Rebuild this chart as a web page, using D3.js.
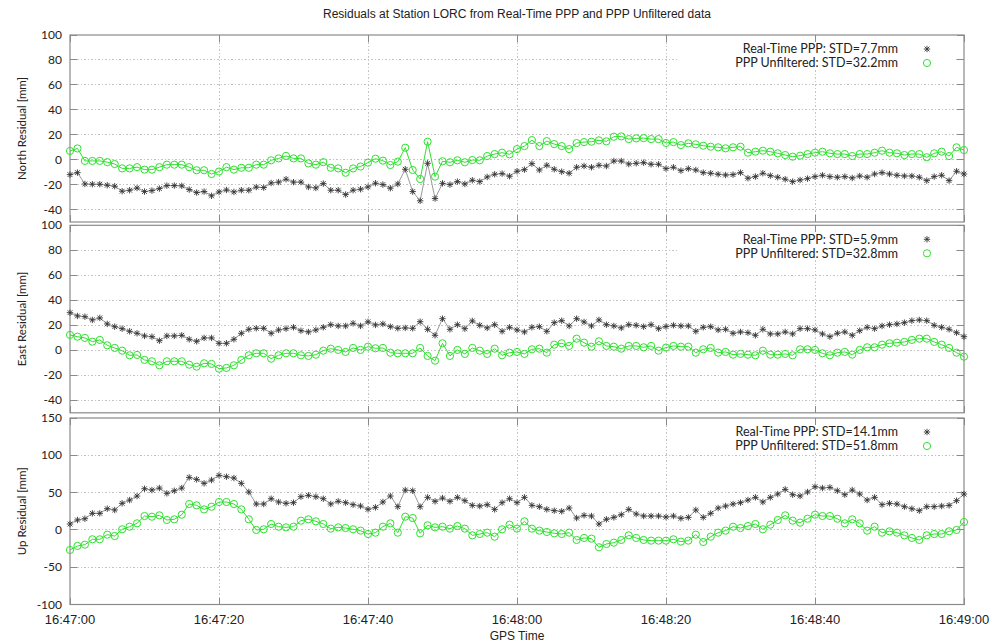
<!DOCTYPE html>
<html><head><meta charset="utf-8">
<script src="https://cdn.jsdelivr.net/npm/d3@7/dist/d3.min.js"></script>
<style>body{margin:0;background:#fff}svg{display:block}</style>
</head><body>
<svg id="c" width="992" height="644"></svg>
<script>
// ---- data ----
const startTime = "16:47:00";
const endTime = "16:49:00";
const xTickLabels = ["16:47:00","16:47:20","16:47:40","16:48:00","16:48:20","16:48:40","16:49:00"];
const title = "Residuals at Station LORC from Real-Time PPP and PPP Unfiltered data";
const seriesNames = ["Real-Time PPP", "PPP Unfiltered"];
const panelLabels = ["North Residual [mm]", "East Residual [mm]", "Up Residual [mm]"];
const stdRT = ["7.7", "5.9", "14.1"];
const stdUnf = ["32.2", "32.8", "51.8"];
const yTicksNE = [-40,-20,0,20,40,60,80,100];
const yTicksUp = [-100,-50,0,50,100,150];

const northRT = [-12,-10.4,-19.5,-19.7,-19.7,-20.5,-21.3,-25.3,-24.5,-22.7,
 -25.6,-24.8,-23.2,-20.8,-20.8,-21,-24,-26.4,-25.6,-29,
 -25.9,-24.3,-25.9,-24.5,-24.5,-22,-22.4,-18.7,-18,-15.7,
 -18,-18,-21.9,-22.7,-19.2,-24.5,-24.5,-28,-24.5,-23.7,
 -21.8,-18.9,-20,-22.9,-19.5,-7.7,-25.6,-33,-2.9,-31.2,
 -19,-20,-17.6,-19.5,-16.5,-17.6,-13.9,-11.7,-11.2,-13.3,
 -9.3,-8,-3.2,-8.3,-4.5,-7.7,-9.6,-10.9,-6.1,-5.1,
 -6.1,-4.5,-5.1,-1.1,-1.1,-3.5,-2.9,-2.4,-3.7,-3.7,
 -7.2,-6.1,-8.8,-7.2,-8.3,-10.4,-10.9,-11.7,-12.3,-12,
 -10.4,-14.9,-13.6,-10.9,-12.8,-14.1,-15.7,-17.6,-16.3,-15.2,
 -13.6,-12.5,-13.6,-14.1,-13.6,-14.7,-13.1,-14.1,-11.5,-10.4,
 -11.5,-12.5,-13.1,-13.1,-14.1,-16.8,-13.6,-12.5,-16.8,-9.3,
 -11.5];
const northUnf = [7,9,-1,-1,-1,-2,-3.5,-7,-7,-6,
 -8,-8,-6,-4,-4,-4,-6,-8.5,-8.5,-11.5,
 -9.5,-6,-8,-6.5,-6.5,-4,-4,-0.5,1,3,
 1,1,-3,-4,-2,-6.5,-7,-10.5,-7,-5.5,
 -2.4,0.8,-0.8,-4.3,-1.6,9.6,-8.3,-15.5,14.4,-13.6,
 -1.3,-2.1,-0.5,-2.1,-0.3,-0.5,2.9,4.5,5.6,4.3,
 8.5,10.9,15.7,10.9,14.9,12.5,10.9,8.5,13.3,14.1,
 14.4,15.5,14.7,18.4,18.7,16.5,17.1,17.3,16.5,16.5,
 13.4,14.1,11.7,13.1,12.3,11.2,10.4,9.9,9.1,9.9,
 10.4,5.6,6.4,7.2,6.4,5.1,3.7,2.4,3.2,4.5,
 5.6,6.4,5.1,4.5,4.5,2.9,4.5,4.5,5.6,7.2,
 5.6,5.1,3.7,4.5,4.5,1.9,5.1,6.4,2.9,9.9,
 7.7];
const eastRT = [30.1,27.5,26.9,24.3,25.9,21.1,18.9,17.3,15.2,13.6,
 11.5,10.9,7.7,11.5,11.5,12,8.8,7.2,9.9,9.9,
 5.6,5.6,8.8,13.6,16.8,17.6,17.6,13.6,16.3,17.3,
 18.4,15.7,14.7,16.3,18.4,20.5,19.5,19.5,21.6,19.5,
 22.8,20.3,21.1,18.9,17.6,17.9,17.6,22.9,16.8,12,
 25.3,16.8,20.5,17.3,23.5,20,17.9,20.5,15.2,18.4,
 16.3,14.7,18.4,18.9,15.2,22.1,23.7,19.5,25.3,22.7,
 19.5,24.3,20.5,19.5,17.9,20.5,20,18.9,20.5,17.3,
 19,20,19.5,19.5,15.2,18.4,18.9,16.3,16.8,13.6,
 14.7,14.1,12,16.8,13.1,13.1,14.7,13.1,17.3,17.3,
 16.3,13.1,10.9,13.6,14.7,12,15.7,18.4,17.3,19.5,
 20.5,21.1,22.1,23.7,24.3,23.7,20,18.4,16.8,14.1,
 10.9];
const eastUnf = [12.3,10.9,9.9,6.9,8.3,4,1.9,-0.3,-4,-3.7,
 -7.7,-8.8,-12,-8.8,-8.8,-8.8,-11.5,-13.1,-10.4,-10.9,
 -14.7,-14.1,-12,-7.7,-4,-2.4,-2.4,-6.7,-4,-2.4,
 -2.4,-4,-4.5,-3.5,-0.3,1.3,0.3,-1.3,1.9,0.3,
 2.9,1.6,1.9,-1.9,-2.4,-2.4,-2.4,1.9,-4.5,-8.3,
 5.6,-4.5,0.3,-2.9,1.9,-0.3,-2.9,1.3,-4,-1.9,
 -1.3,-2.9,0.8,1.3,-1.9,4.5,5.6,3.5,9.3,6.1,
 2.9,7.2,3.5,2.9,1.3,3.5,3.5,2.4,3.5,-0.3,
 2.2,3.5,2.9,2.9,-1.9,0.8,1.9,-1.9,-1.3,-3.5,
 -2.9,-3.5,-4,-0.3,-3.5,-3.5,-2.9,-4,0.8,0.8,
 0.3,-2.4,-4,-1.9,-1.3,-3.5,0.3,2.4,2.4,4.5,
 5.6,6.1,6.7,8.3,9.3,9.3,6.7,4.5,1.9,-1.9,
 -5.1];
const upRT = [7.9,13.3,15,22.2,22.2,28.4,26.7,35.6,40,45.4,
 55.2,53.4,56.1,49,52.5,56.1,70.4,67.7,62.4,66.8,
 73.1,71.3,69.5,62.4,50.8,34.7,34.7,41.8,37.4,35.6,
 36.5,44.5,46.3,44.5,41.8,34.7,38.3,36.5,33.8,32,
 27.6,30.2,37.4,45.4,31.1,53.4,52.5,31.1,43.6,38.3,
 42.7,38.3,43.6,39.2,32.9,32,33.8,27.5,36.5,41.8,
 36.5,43.6,32.9,31.1,27.5,25.8,24.9,29.3,15.9,19.5,
 18.6,7.9,14.2,16.8,20.4,27.5,21.3,18.6,18.6,18.6,
 17.2,18.6,15.5,16.8,26.7,16.8,22.2,29.3,32,34.7,
 36.5,40,43.6,37.4,43.6,48.1,54.3,47.2,45.4,50.8,
 57.9,56.1,57,52.5,47.2,53.4,48.1,40,43.6,33.8,
 35.6,34.7,31.1,28.4,25.8,31.1,31.1,32,32.9,39.2,
 48.1];
const upUnf = [-26.9,-21.5,-19.8,-12.6,-12.6,-6.4,-8.2,0.8,4.3,8.8,
 18.6,17.7,19.5,13.3,14.2,20.4,34.7,32.9,27.5,31.1,
 37.4,37.4,34.7,27.5,14.2,-0.1,0.8,7.9,4.3,3.4,
 4.3,12.4,14.2,11.5,7.9,1.7,3.4,2.5,0.8,-1,
 -5.5,-3.7,4.3,8.8,-3.7,17.7,15.9,-4.6,6.1,3.4,
 4.3,1.7,5.2,1.7,-7.3,-5.5,-3.7,-9.1,0.8,7,
 1.7,11.5,1.7,-1,-2.8,-4.6,-5.5,-3.7,-13.5,-10.8,
 -11.7,-23.3,-18.9,-17.1,-13.5,-7.3,-10.8,-13.5,-14.4,-14.4,
 -14.4,-12.6,-15.7,-14.4,-6.4,-16.2,-9.1,-3.7,-1,4.3,
 2.5,5.2,7.9,0.8,7,13.3,19.5,12.4,9.7,15,
 20.4,18.6,18.6,15,8.8,14.2,8.8,-1,4.3,-3.7,
 -1.9,-3.7,-7.3,-10.8,-13.5,-7.3,-5.5,-5.5,-1.9,-0.1,
 10.6];

// ---- layout ----
const svg = d3.select("#c");
const parseT = d3.timeParse("%H:%M:%S");
const t0 = parseT(startTime), t1 = parseT(endTime);
const L = 70, R = 964;
const x = d3.scaleTime().domain([t0, t1]).range([L, R]);
const times = northRT.map((_, i) => d3.timeSecond.offset(t0, i));

const panels = [
  {top: 35, bottom: 222, dom: [-50, 100], ticks: yTicksNE, rt: northRT, un: northUnf},
  {top: 225.3, bottom: 412.8, dom: [-50, 100], ticks: yTicksNE, rt: eastRT, un: eastUnf},
  {top: 418, bottom: 604.5, dom: [-100, 150], ticks: yTicksUp, rt: upRT, un: upUnf}
];

const GREEN = "#2fe02f";
const FRAME = "#8a8a8a";
const sans = "Lato, 'Open Sans', sans-serif";
const narrow = "'Liberation Sans Narrow', 'Liberation Sans', sans-serif";

svg.append("text").attr("x", 517).attr("y", 18).attr("text-anchor", "middle")
  .attr("font-family", narrow).attr("font-size", 12).attr("fill", "#222").text(title);

const starPath = "M-3.2,0H3.2M0,-3.2V3.2M-2.4,-2.4L2.4,2.4M-2.4,2.4L2.4,-2.4";

panels.forEach((p, k) => {
  const y = d3.scaleLinear().domain(p.dom).range([p.bottom, p.top]);
  const g = svg.append("g");
  // grid
  g.append("g").selectAll("line").data(p.ticks.filter(v => v > p.dom[0] && v < p.dom[1]))
    .join("line").attr("x1", L).attr("x2", R).attr("y1", d => y(d)).attr("y2", d => y(d))
    .attr("stroke", "#c4c4c4").attr("stroke-dasharray", "1.5,2").attr("shape-rendering", "crispEdges");
  const xt = xTickLabels.map(parseT);
  g.append("g").selectAll("line").data(xt.slice(1, -1))
    .join("line").attr("x1", d => x(d)).attr("x2", d => x(d)).attr("y1", p.top).attr("y2", p.bottom)
    .attr("stroke", "#c4c4c4").attr("stroke-dasharray", "1.5,2").attr("shape-rendering", "crispEdges");
  // key box (opaque)
  g.append("rect").attr("x", 678).attr("y", p.top + 1).attr("width", 278).attr("height", 33).attr("fill", "#fff");
  // ticks
  const tk = g.append("g").attr("stroke", FRAME).attr("shape-rendering", "crispEdges");
  p.ticks.forEach(v => {
    tk.append("line").attr("x1", L).attr("x2", L + 7).attr("y1", y(v)).attr("y2", y(v));
    tk.append("line").attr("x1", R - 7).attr("x2", R).attr("y1", y(v)).attr("y2", y(v));
  });
  xt.forEach(d => {
    tk.append("line").attr("x1", x(d)).attr("x2", x(d)).attr("y1", p.bottom).attr("y2", p.bottom - 7);
    tk.append("line").attr("x1", x(d)).attr("x2", x(d)).attr("y1", p.top).attr("y2", p.top + 7);
  });
  // frame
  g.append("rect").attr("x", L).attr("y", p.top).attr("width", R - L).attr("height", p.bottom - p.top)
    .attr("fill", "none").attr("stroke", FRAME).attr("stroke-width", 1.2);
  // y tick labels
  g.append("g").selectAll("text").data(p.ticks).join("text")
    .attr("x", 62).attr("y", d => y(d) + 4).attr("text-anchor", "end")
    .attr("font-family", sans).attr("font-size", 12).attr("fill", "#222").text(d => d);
  // y label
  const cy = (p.top + p.bottom) / 2;
  g.append("text").attr("transform", `translate(26,${cy}) rotate(-90)`).attr("text-anchor", "middle")
    .attr("font-family", sans).attr("font-size", 11.5).attr("fill", "#222").text(panelLabels[k]);

  // series
  const line = d3.line().x((d, i) => x(times[i])).y(d => y(d));
  g.append("path").datum(p.un).attr("d", line).attr("fill", "none").attr("stroke", GREEN).attr("stroke-width", 1);
  g.append("g").selectAll("circle").data(p.un).join("circle")
    .attr("cx", (d, i) => x(times[i])).attr("cy", d => y(d)).attr("r", 3.6)
    .attr("fill", "none").attr("stroke", GREEN).attr("stroke-width", 1);
  g.append("path").datum(p.rt).attr("d", line).attr("fill", "none").attr("stroke", "#999").attr("stroke-width", 1);
  g.append("g").selectAll("path").data(p.rt).join("path")
    .attr("transform", (d, i) => `translate(${x(times[i])},${y(d)})`).attr("d", starPath)
    .attr("fill", "none").attr("stroke", "#333").attr("stroke-width", 0.9);

  // legend
  const ly1 = p.top + 14, ly2 = p.top + 28;
  g.append("text").attr("x", 898).attr("y", ly1 + 4.3).attr("text-anchor", "end")
    .attr("font-family", sans).attr("font-size", 12.5).attr("fill", "#222")
    .text(`${seriesNames[0]}: STD=${stdRT[k]}mm`);
  g.append("text").attr("x", 898).attr("y", ly2 + 4.3).attr("text-anchor", "end")
    .attr("font-family", sans).attr("font-size", 12.5).attr("fill", "#222")
    .text(`${seriesNames[1]}: STD=${stdUnf[k]}mm`);
  g.append("path").attr("transform", `translate(927,${ly1})`).attr("d", starPath)
    .attr("fill", "none").attr("stroke", "#333").attr("stroke-width", 0.9);
  g.append("circle").attr("cx", 927).attr("cy", ly2).attr("r", 3.6)
    .attr("fill", "none").attr("stroke", GREEN).attr("stroke-width", 1);
});

// x tick labels
svg.append("g").selectAll("text").data(xTickLabels).join("text")
  .attr("x", d => x(parseT(d))).attr("y", 624).attr("text-anchor", "middle")
  .attr("font-family", narrow).attr("font-size", 13).attr("fill", "#222").text(d => d);
svg.append("text").attr("x", 517).attr("y", 640).attr("text-anchor", "middle")
  .attr("font-family", narrow).attr("font-size", 12).attr("fill", "#222").text("GPS Time");
</script>
</body></html>
